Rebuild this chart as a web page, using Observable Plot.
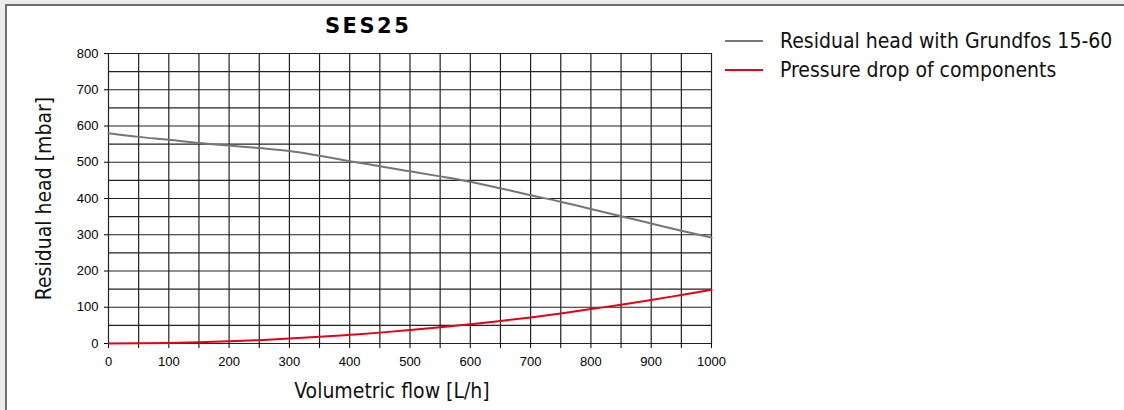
<!DOCTYPE html>
<html>
<head>
<meta charset="utf-8">
<script src="https://cdn.jsdelivr.net/npm/d3@7"></script>
<script src="https://cdn.jsdelivr.net/npm/@observablehq/plot@0.6"></script>
<style>
  html, body { margin: 0; padding: 0; background: #ececec; }
  #frame { position: absolute; left: 5px; top: 4px; width: 1119px; height: 406px; background: #fff;
           border-left: 2px solid #6e6e6e; border-top: 2px solid #6e6e6e; box-sizing: border-box; }
  #chart { position: absolute; left: 0; top: 0; }
  .title { position: absolute; left: 325px; top: 14px; font: bold 21px "DejaVu Sans", sans-serif; letter-spacing: 2.5px; color: #000; }
  .leg { position: absolute; left: 725px; font: 21px "DejaVu Sans Condensed", "DejaVu Sans", sans-serif; font-stretch: condensed; color: #111; display: flex; align-items: center; white-space: nowrap; }
  .leg .sw { width: 38px; height: 2px; margin-right: 17px; }
</style>
</head>
<body>
<div id="frame"></div>
<div id="chart"></div>
<div class="title">SES25</div>
<div id="legend"></div>
<script>
const flow = [0, 50, 100, 150, 200, 250, 300, 350, 400, 450, 500, 550, 600, 650, 700, 750, 800, 850, 900, 950, 1000];
const residualHead = [580, 570, 562, 553, 546, 539, 531, 518, 503, 489, 475, 461, 446, 428, 409, 391, 371, 351, 331, 311, 292];
const pressureDrop = [0, 0.4, 1.5, 3.4, 6, 9.3, 13.5, 18.3, 24, 30, 37, 44.5, 53, 62, 72, 83, 95, 107, 120, 134, 148];
const xTicks = [0, 100, 200, 300, 400, 500, 600, 700, 800, 900, 1000];
const yTicks = [0, 100, 200, 300, 400, 500, 600, 700, 800];
const gridStep = 50;
const seriesNames = ["Residual head with Grundfos 15-60", "Pressure drop of components"];
const seriesColors = ["#767676", "#e2001a"];
const xLabel = "Volumetric flow [L/h]";
const yLabel = "Residual head [mbar]";

const rows = [];
flow.forEach((f, i) => {
  rows.push({flow: f, value: residualHead[i], series: seriesNames[0]});
  rows.push({flow: f, value: pressureDrop[i], series: seriesNames[1]});
});
const xGrid = d3.range(0, 1001, gridStep);
const yGrid = d3.range(0, 801, gridStep);

const labelFont = '"DejaVu Sans Condensed", "DejaVu Sans", sans-serif';

const plot = Plot.plot({
  width: 1124,
  height: 410,
  marginLeft: 108,
  marginRight: 413,
  marginTop: 53,
  marginBottom: 67,
  style: {background: "transparent", fontFamily: '"Liberation Sans", Arial, sans-serif', fontSize: "13px", color: "#000"},
  x: {domain: [0, 1000]},
  y: {domain: [0, 800]},
  color: {domain: seriesNames, range: seriesColors},
  marks: [
    Plot.ruleX(xGrid, {x: d => d, stroke: "#222", strokeWidth: 1.2}),
    Plot.ruleY(yGrid, {y: d => d, stroke: "#222", strokeWidth: 1.2}),
    Plot.axisY({ticks: yTicks, tickSize: 4, tickPadding: 6, label: null, tickFormat: d3.format("d"), stroke: "#000"}),
    Plot.axisX({ticks: xGrid, tickSize: 5, tickPadding: 8, tickFormat: d => (d % 100 === 0 ? String(d) : ""), label: null, stroke: "#000"}),
    Plot.line(rows, {x: "flow", y: "value", z: "series", stroke: "series", strokeWidth: 2, curve: "monotone-x"}),
    Plot.text([yLabel], {frameAnchor: "left", textAnchor: "middle", dx: -64, rotate: -90, text: d => d, fontFamily: labelFont, fontSize: 21, fill: "#111"}),
    Plot.text([xLabel], {frameAnchor: "bottom", textAnchor: "middle", dx: -18, dy: 54, text: d => d, fontFamily: labelFont, fontSize: 21, fill: "#111"})
  ]
});
document.getElementById("chart").appendChild(plot);

// enlarge numeric tick labels
d3.select(plot).selectAll("text")
  .filter(function () { return /^\d+$/.test(this.textContent.trim()); })
  .style("font-size", "13px")
  .style("font-family", '"Liberation Sans", Arial, sans-serif')
  .style("fill", "#000");

const legend = document.getElementById("legend");
seriesNames.forEach((name, i) => {
  const row = document.createElement("div");
  row.className = "leg";
  row.style.top = (29 + i * 29) + "px";
  const sw = document.createElement("div");
  sw.className = "sw";
  sw.style.background = seriesColors[i];
  const tx = document.createElement("span");
  tx.textContent = name;
  row.appendChild(sw);
  row.appendChild(tx);
  legend.appendChild(row);
});
</script>
</body>
</html>
